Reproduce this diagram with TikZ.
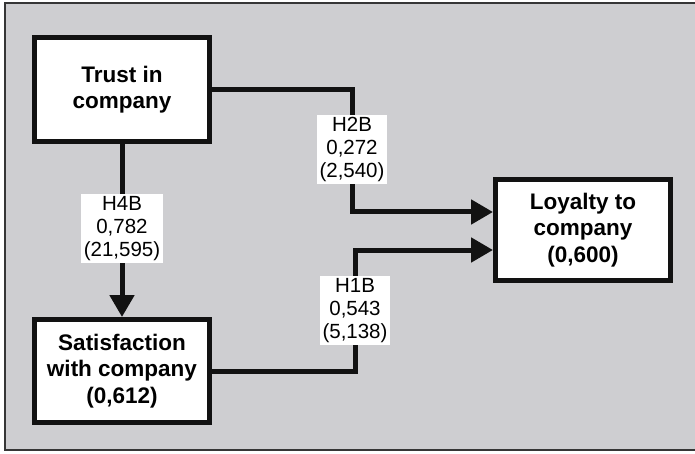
\documentclass[tikz,border=0pt]{standalone}
\usepackage{fontspec}
\setmainfont{Liberation Sans}
\usetikzlibrary{arrows.meta}
\definecolor{panel}{RGB}{206,206,209}
\definecolor{ink}{RGB}{18,18,18}
\tikzset{
  construct/.style={draw=ink, line width=5pt, fill=white, align=center,
    inner sep=0pt, minimum width=175pt,
    font=\fontsize{22.5}{26.5}\selectfont\bfseries},
  pathlabel/.style={fill=white, align=center, inner sep=2.5pt,
    font=\fontsize{20.5}{23}\selectfont},
  link/.style={draw=ink, line width=5pt},
  effect/.style={link, -{Triangle[width=24pt,length=22pt]}}
}
\begin{document}
\begin{tikzpicture}[x=1pt,y=-1pt]
  \useasboundingbox (0,0) rectangle (695,454);
  % panel background and frame
  \fill[panel] (5,3) rectangle (695,450);
  \draw[ink!85, line width=1.6pt] (695,3) -- (5,3) -- (5,450) -- (695,450);

  % constructs
  \node[construct, minimum height=104pt] (trust) at (122,89.5) {Trust in\\company};
  \node[construct, minimum height=103pt] (sat) at (122,371) {Satisfaction\\with company\\(0,612)};
  \node[construct, minimum height=101pt] (loyal) at (583,230) {Loyalty to\\company\\(0,600)};

  % bends of the two paths into loyalty
  \coordinate (h2turn) at (352,212);
  \coordinate (h1turn) at (355,250);

  % structural paths
  \draw[effect] (trust.south) -- (sat.north);
  \draw[effect] (trust.east) -| (h2turn) -- (loyal.west |- h2turn);
  \draw[effect] (sat.east) -| (h1turn) -- (loyal.west |- h1turn);

  % path coefficients with t-values
  \node[pathlabel] (h4b) at (122,228.5) {H4B\\0,782\\(21,595)};
  \node[pathlabel] (h2b) at (352,149.5) {H2B\\0,272\\(2,540)};
  \node[pathlabel] (h1b) at (355,310.5) {H1B\\0,543\\(5,138)};
\end{tikzpicture}
\end{document}
